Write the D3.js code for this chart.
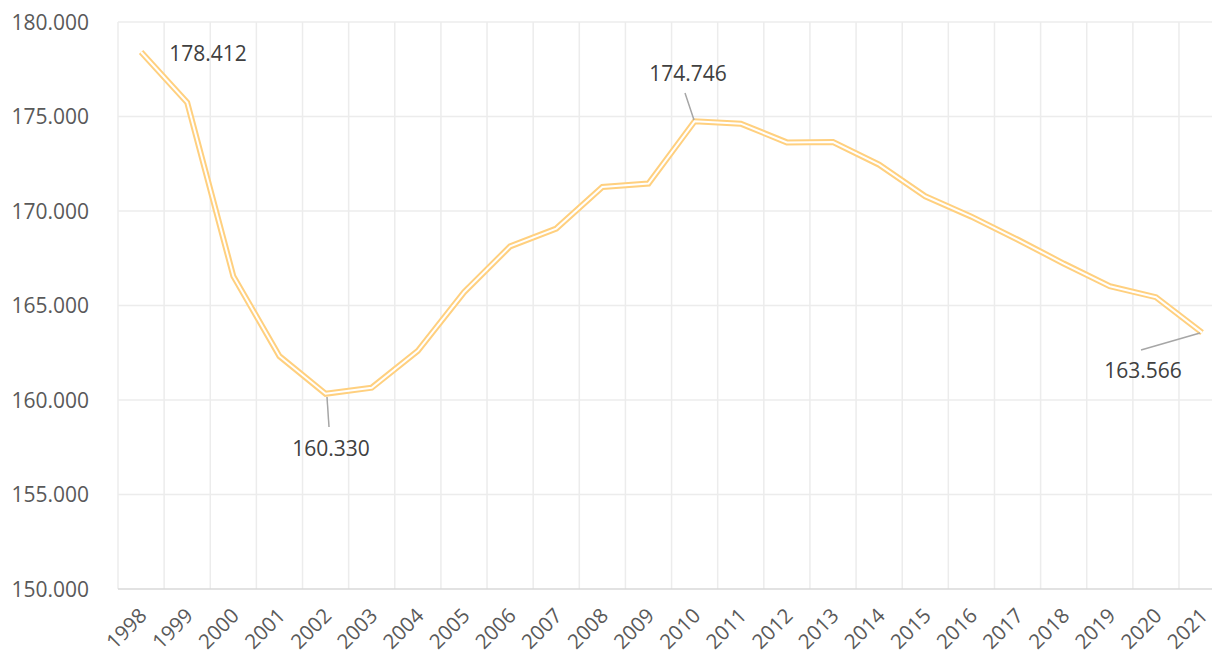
<!DOCTYPE html>
<html>
<head>
<meta charset="utf-8">
<script src="https://cdn.jsdelivr.net/npm/d3@7"></script>
<style>
  body { margin: 0; background: #fff; }
  text { font-family: "Open Sans", sans-serif; }
</style>
</head>
<body>
<script>
// data
let years = ["1998","1999","2000","2001","2002","2003","2004","2005","2006","2007","2008","2009",
             "2010","2011","2012","2013","2014","2015","2016","2017","2018","2019","2020","2021"]
let values = [178.412, 175.74, 166.55, 162.32, 160.330, 160.65, 162.6, 165.7, 168.13, 169.07, 171.27, 171.45,
              174.746, 174.62, 173.63, 173.65, 172.45, 170.78, 169.7, 168.49, 167.22, 166.02, 165.44, 163.566]
let yTicks = [150, 155, 160, 165, 170, 175, 180]
// labelled points: index, label position, leader line
let labels = [
    { i: 0,  text: "178.412", tx: 208, ty: 53, leader: null },
    { i: 4,  text: "160.330", tx: 331, ty: 448, leader: [[327, 397], [329, 427]] },
    { i: 12, text: "174.746", tx: 688, ty: 73, leader: [[685, 93], [694, 120]] },
    { i: 23, text: "163.566", tx: 1143, ty: 370, leader: [[1141, 350], [1200, 333]] }
]

let width = 1212
let height = 654
let plotLeft = 118, plotTop = 22, plotBottom = 589
let bandW = 46.13

let svg = d3.select("body").append("svg")
    .attr("width", width)
    .attr("height", height)

let x = d3.scaleBand()
    .domain(years)
    .range([plotLeft, plotLeft + bandW * years.length])
    .padding(0)

let y = d3.scaleLinear()
    .domain([150, 180])
    .range([plotBottom, plotTop])

// horizontal grid
svg.append("g")
    .selectAll("line")
    .data(yTicks.slice(1))
    .enter()
    .append("line")
        .attr("x1", plotLeft)
        .attr("x2", width)
        .attr("y1", d => y(d))
        .attr("y2", d => y(d))
        .attr("stroke", "#ececec")
        .attr("stroke-width", 1.5)

// vertical grid
svg.append("g")
    .selectAll("line")
    .data(years)
    .enter()
    .append("line")
        .attr("x1", d => x(d))
        .attr("x2", d => x(d))
        .attr("y1", plotTop)
        .attr("y2", plotBottom)
        .attr("stroke", "#ececec")
        .attr("stroke-width", 1.5)

// bottom axis line
svg.append("line")
    .attr("x1", plotLeft)
    .attr("x2", width)
    .attr("y1", plotBottom)
    .attr("y2", plotBottom)
    .attr("stroke", "#d9d9d9")
    .attr("stroke-width", 1.5)

// y tick labels
svg.append("g")
    .selectAll("text")
    .data(yTicks)
    .enter()
    .append("text")
        .attr("x", 89)
        .attr("y", d => y(d))
        .attr("dy", "0.36em")
        .attr("text-anchor", "end")
        .attr("font-size", 21)
        .attr("fill", "#595959")
        .text(d => d3.format(".3f")(d))

// x tick labels
svg.append("g")
    .selectAll("text")
    .data(years)
    .enter()
    .append("text")
        .attr("transform", d => "translate(" + (x(d) + bandW / 2 + 2) + ",612) rotate(-45)")
        .attr("text-anchor", "end")
        .attr("dy", "0.35em")
        .attr("font-size", 20.5)
        .attr("fill", "#595959")
        .text(d => d)

// line (double stroke)
let line = d3.line()
    .x((d, i) => x(years[i]) + bandW / 2)
    .y(d => y(d))

svg.append("path")
    .datum(values)
    .attr("d", line)
    .attr("fill", "none")
    .attr("stroke", "#ffd07f")
    .attr("stroke-width", 6)
    .attr("stroke-linejoin", "miter")

svg.append("path")
    .datum(values)
    .attr("d", line)
    .attr("fill", "none")
    .attr("stroke", "#ffffff")
    .attr("stroke-width", 2)
    .attr("stroke-linejoin", "miter")

// data labels
let lg = svg.append("g")
labels.forEach(l => {
    if (l.leader) {
        lg.append("line")
            .attr("x1", l.leader[0][0])
            .attr("y1", l.leader[0][1])
            .attr("x2", l.leader[1][0])
            .attr("y2", l.leader[1][1])
            .attr("stroke", "#a6a6a6")
            .attr("stroke-width", 1.5)
    }
    lg.append("text")
        .attr("x", l.tx)
        .attr("y", l.ty)
        .attr("dy", "0.36em")
        .attr("text-anchor", "middle")
        .attr("font-size", 21)
        .attr("fill", "#404040")
        .text(l.text)
})
</script>
</body>
</html>
